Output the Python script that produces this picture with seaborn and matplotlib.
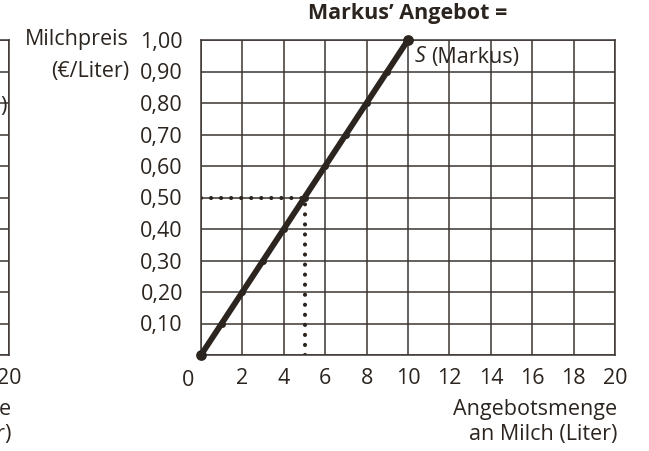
import seaborn as sns
import matplotlib.pyplot as plt
import pandas as pd

# Markus' supply schedule (liters of milk vs. price in EUR/liter)
menge = [0, 1, 2, 3, 4, 5, 6, 7, 8, 9, 10]
preis = [0.0, 0.1, 0.2, 0.3, 0.4, 0.5, 0.6, 0.7, 0.8, 0.9, 1.0]

# highlighted point (price 0,50 -> 5 liters)
punkt_menge = 5
punkt_preis = 0.5

x_ticks = [0, 2, 4, 6, 8, 10, 12, 14, 16, 18, 20]
y_ticks = [0.0, 0.1, 0.2, 0.3, 0.4, 0.5, 0.6, 0.7, 0.8, 0.9, 1.0]
y_labels = ['', '0,10', '0,20', '0,30', '0,40', '0,50',
            '0,60', '0,70', '0,80', '0,90', '1,00']

df = pd.DataFrame({'Menge': menge, 'Preis': preis})

sns.set_style("white")
plt.rcParams['font.family'] = ['Open Sans', 'DejaVu Sans']
plt.rcParams['font.weight'] = 'medium'

ink = '#2b241f'
gridc = '#3d3530'
fs = 15.5

fig = plt.figure(figsize=(6.49, 4.51), dpi=100)
W, H = 649, 451
ax_w, ax_h = 414 / W, 315 / H
bottom = 96 / H


def style_axes(a):
    a.set_xlim(0, 20)
    a.set_ylim(0, 1.0)
    a.set_xticks(x_ticks)
    a.set_yticks(y_ticks)
    a.grid(True, color=gridc, lw=1.1)
    for s in a.spines.values():
        s.set_color(gridc)
        s.set_linewidth(1.1)
        s.set_visible(True)
    a.tick_params(direction='out', length=5, width=1.1, color=gridc,
                  labelsize=fs, labelcolor=ink)
    a.tick_params(axis='y', pad=8)
    a.tick_params(axis='x', pad=4)
    a.set_xlabel('')
    a.set_ylabel('')
    a.annotate('Angebotsmenge\nan Milch (Liter)', xy=(1, 0),
               xycoords='axes fraction', xytext=(2, -67),
               textcoords='offset pixels', ha='right', va='center',
               fontsize=fs, color=ink, linespacing=1.25)


# neighbouring chart, only its right edge is visible
ax0 = fig.add_axes([(9 / W) - ax_w, bottom, ax_w, ax_h])
style_axes(ax0)
ax0.set_yticklabels([])
ax0.set_xticklabels([''] * 10 + ['20'])
ax0.annotate(')', xy=(1, 0.79), xycoords=('axes fraction', 'data'),
             xytext=(-2, 0), textcoords='offset pixels', ha='right',
             va='center', fontsize=fs, color=ink)

# main chart
ax = fig.add_axes([201 / W, bottom, ax_w, ax_h])
style_axes(ax)
ax.set_yticklabels(y_labels)
ax.set_xticklabels([''] + [str(t) for t in x_ticks[1:]])
ax.annotate('0', xy=(0, 0), xytext=(-13, -25), textcoords='offset pixels',
            ha='center', va='center', fontsize=fs, color=ink)

# dotted guide lines to the highlighted point
dots = dict(color=ink, lw=3, ls=(0, (0.01, 2.4)), dash_capstyle='round')
ax.plot([0, punkt_menge], [punkt_preis, punkt_preis], **dots)
ax.plot([punkt_menge, punkt_menge], [0, punkt_preis], **dots)

sns.lineplot(data=df, x='Menge', y='Preis', ax=ax, color=ink, lw=4.2,
             marker='o', markersize=5, markeredgewidth=0,
             solid_capstyle='round', clip_on=False, zorder=5)
sns.scatterplot(x=[menge[0], menge[-1]], y=[preis[0], preis[-1]], ax=ax,
                color=ink, s=60, linewidth=0, clip_on=False, zorder=6)
ax.set_xlabel('')
ax.set_ylabel('')

# curve label
ax.annotate('S', xy=(menge[-1], preis[-1]), xytext=(7, -17),
            textcoords='offset pixels', ha='left', va='center',
            fontsize=fs, color=ink, style='italic')
ax.annotate('(Markus)', xy=(menge[-1], preis[-1]), xytext=(23, -17),
            textcoords='offset pixels', ha='left', va='center',
            fontsize=fs, color=ink)

# y-axis caption
ax.annotate('Milchpreis', xy=(0, 1.0), xycoords=('axes fraction', 'data'),
            xytext=(-72, 0), textcoords='offset pixels', ha='right',
            va='center', fontsize=fs, color=ink)
ax.annotate('(€/Liter)', xy=(0, 0.9), xycoords=('axes fraction', 'data'),
            xytext=(-72, 0), textcoords='offset pixels', ha='right',
            va='center', fontsize=fs, color=ink)

fig.text(408 / W, 1 - 14 / H, 'Markus’ Angebot =', ha='center',
         va='center', fontsize=fs, fontweight='bold', color=ink)

fig.savefig('out.png', dpi=100)
